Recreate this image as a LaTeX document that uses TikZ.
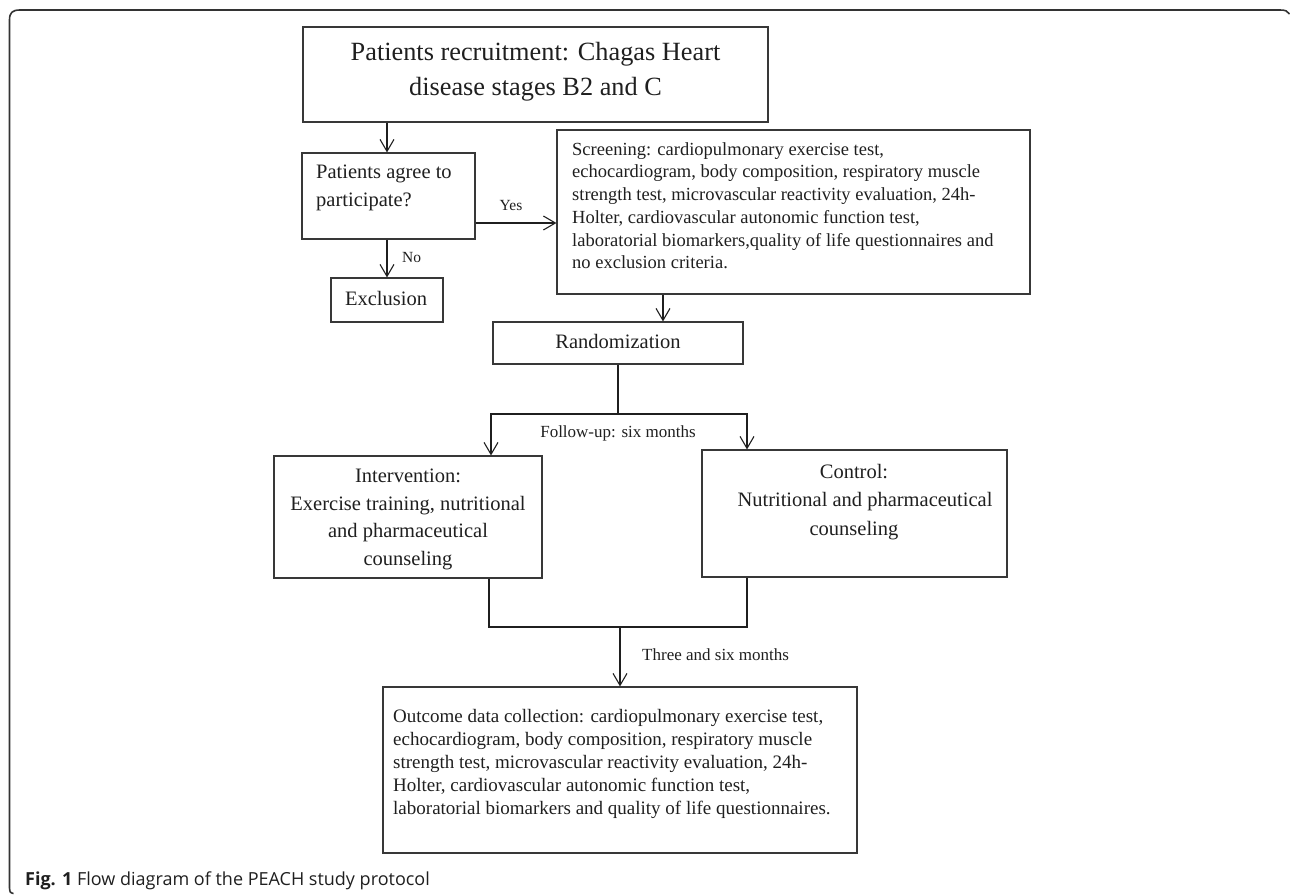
\documentclass[tikz,border=0pt]{standalone}
\usepackage{fontspec}
\setmainfont{Liberation Serif}
\newfontfamily\capfont{Open Sans}
\usetikzlibrary{arrows.meta,fit}
\newcommand\fsBig{\fontsize{26.3}{35}\selectfont}
\newcommand\fsMid{\fontsize{20.5}{27.5}\selectfont}
\newcommand\fsSmall{\fontsize{18.5}{22.7}\selectfont}
\newcommand\fsLab{\fontsize{17}{20}\selectfont}
\newcommand\fsYN{\fontsize{15.5}{18}\selectfont}
\begin{document}
\begin{tikzpicture}[x=1pt,y=-1pt,
  box/.style={draw=black!78, line width=1.1pt, inner sep=0pt, rectangle},
  conn/.style={draw=black!88, line width=1.1pt},
  arr/.style={conn, -{Straight Barb[length=12pt,width=14pt,line width=1.1pt]}},
  txt/.style={inner sep=0pt, text=black!88},
  frame/.style={draw=black!80, line width=1.6pt}
]
\useasboundingbox (0,0) rectangle (1290,896);
% frame
\draw[frame] (13.5,893.5) .. controls (10,892.5) .. (9.5,888) -- (9.5,20)
  .. controls (9.5,12.5) and (12.5,10) .. (20,10) -- (1280,10)
  .. controls (1285,10) and (1288,11) .. (1289.5,14);
% boxes
\node[box, fit={(303,27) (768,122)}] (rec) {};
\node[box, fit={(302,153) (475,239)}] (agree) {};
\node[box, fit={(331,278) (443,322)}] (excl) {};
\node[box, fit={(557,130) (1030,294)}] (scr) {};
\node[box, fit={(493,322) (743,364)}] (rand) {};
\node[box, fit={(274,456) (542,578)}] (int) {};
\node[box, fit={(702,450) (1007,577)}] (ctl) {};
\node[box, fit={(383,687) (857,853)}] (out) {};
% texts
\node[txt, anchor=north, align=center, font=\fsBig] (trec) at (535.5,42)
  {Patients recruitment: Chagas Heart\\disease stages B2 and C};
\node[txt, anchor=north west, align=left, font=\fsMid] (tagree) at (316,165)
  {Patients agree to\\participate?};
\node[txt, anchor=base, font=\fsMid] (texcl) at (386,305) {Exclusion};
\node[txt, anchor=north west, align=left, font=\fsSmall] (tscr) at (572,142.2)
  {Screening: cardiopulmonary exercise test,\\
   echocardiogram, body composition, respiratory muscle\\
   strength test, microvascular reactivity evaluation, 24h-\\
   Holter, cardiovascular autonomic function test,\\
   laboratorial biomarkers,quality of life questionnaires and\\
   no exclusion criteria.};
\node[txt, anchor=base, font=\fsMid] (trand) at (618,348) {Randomization};
\node[txt, anchor=north, align=center, font=\fsMid] (tint) at (408,469)
  {Intervention:\\Exercise training, nutritional\\and pharmaceutical\\counseling};
\node[txt, anchor=north, align=center, font=\fsMid, execute at begin node={\setlength{\baselineskip}{28.5pt}}] (tctl) at (854,464)
  {Control:\\\hspace*{22pt}Nutritional and pharmaceutical\\counseling};
\node[txt, anchor=north west, align=left, font=\fontsize{19}{23}\selectfont] (tout) at (393,709)
  {Outcome data collection: cardiopulmonary exercise test,\\
   echocardiogram, body composition, respiratory muscle\\
   strength test, microvascular reactivity evaluation, 24h-\\
   Holter, cardiovascular autonomic function test,\\
   laboratorial biomarkers and quality of life questionnaires.};
% connector coordinates
\coordinate (yy) at (0,223);
\coordinate (sx) at (663,0);
\coordinate (la) at (491,414);
\coordinate (ra) at (747,414);
\coordinate (lb) at (489,627);
\coordinate (rb) at (747,627);
% connectors
\draw[arr] (rec.south -| excl.north) -- (agree.north -| excl.north);
\draw[arr] (agree.south -| excl.north) -- (excl.north);
\draw[arr] (agree.east |- yy) -- (scr.west |- yy);
\draw[arr] (scr.south -| sx) -- (rand.north -| sx);
\draw[conn] (rand.south) -- (rand.south |- la);
\draw[arr] (rand.south |- la) -- (la) -- (int.north -| la);
\draw[arr] (rand.south |- ra) -- (ra) -- (ctl.north -| ra);
\draw[conn] (int.south -| lb) -- (lb) -- (rb) -- (ctl.south -| rb);
\draw[arr] (out.north |- lb) -- (out.north);
% labels
\node[txt, anchor=base, font=\fsYN] (lyes) at (511,211) {Yes};
\node[txt, anchor=base west, font=\fsYN] (lno) at (402,262) {No};
\node[txt, anchor=base, font=\fsLab] (lfol) at (618,437) {Follow-up: six months};
\node[txt, anchor=base west, font=\fsLab] (lthree) at (642,660) {Three and six months};
% caption
\node[txt, anchor=base west, font=\capfont\fontsize{18}{20}\selectfont] (cap) at (25,885)
  {\textbf{Fig. 1} Flow diagram of the PEACH study protocol};
\end{tikzpicture}
\end{document}
